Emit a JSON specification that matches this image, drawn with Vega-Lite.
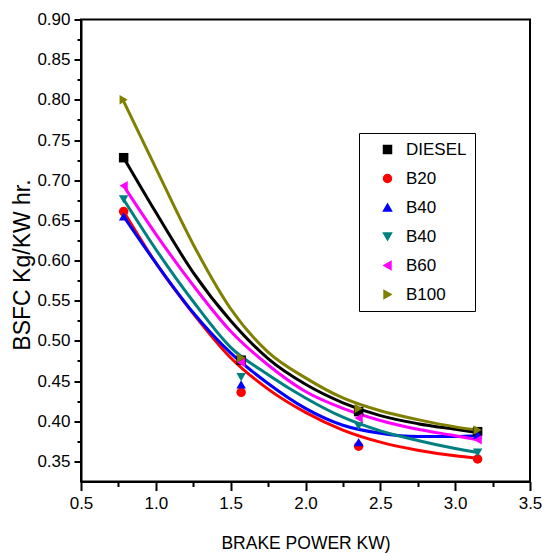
{
  "$schema": "https://vega.github.io/schema/vega-lite/v6.json",
  "width": 449,
  "height": 462,
  "autosize": "none",
  "padding": {"left": 81, "top": 19.5, "right": 19, "bottom": 74.5},
  "background": "white",
  "config": {
    "view": {"stroke": "#000000", "strokeWidth": 2},
    "axis": {
      "domainColor": "#000000", "domainWidth": 2,
      "tickColor": "#000000", "tickWidth": 2,
      "labelFont": "Liberation Sans", "labelFontSize": 17, "labelColor": "#000000",
      "titleColor": "#000000", "titleFontWeight": "normal", "grid": false
    }
  },
  "datasets": {
    "fit": [
      {"bp": 0.785, "bsfc": 0.728, "fuel": "DIESEL"},
      {"bp": 1.0, "bsfc": 0.660, "fuel": "DIESEL"},
      {"bp": 1.25, "bsfc": 0.585, "fuel": "DIESEL"},
      {"bp": 1.5, "bsfc": 0.525, "fuel": "DIESEL"},
      {"bp": 1.75, "bsfc": 0.478, "fuel": "DIESEL"},
      {"bp": 2.0, "bsfc": 0.446, "fuel": "DIESEL"},
      {"bp": 2.25, "bsfc": 0.423, "fuel": "DIESEL"},
      {"bp": 2.5, "bsfc": 0.407, "fuel": "DIESEL"},
      {"bp": 2.75, "bsfc": 0.397, "fuel": "DIESEL"},
      {"bp": 3.0, "bsfc": 0.390, "fuel": "DIESEL"},
      {"bp": 3.15, "bsfc": 0.386, "fuel": "DIESEL"},
      {"bp": 0.785, "bsfc": 0.661, "fuel": "B20"},
      {"bp": 1.0, "bsfc": 0.597, "fuel": "B20"},
      {"bp": 1.25, "bsfc": 0.534, "fuel": "B20"},
      {"bp": 1.5, "bsfc": 0.479, "fuel": "B20"},
      {"bp": 1.75, "bsfc": 0.440, "fuel": "B20"},
      {"bp": 2.0, "bsfc": 0.411, "fuel": "B20"},
      {"bp": 2.25, "bsfc": 0.389, "fuel": "B20"},
      {"bp": 2.5, "bsfc": 0.374, "fuel": "B20"},
      {"bp": 2.75, "bsfc": 0.364, "fuel": "B20"},
      {"bp": 3.0, "bsfc": 0.357, "fuel": "B20"},
      {"bp": 3.15, "bsfc": 0.354, "fuel": "B20"},
      {"bp": 0.785, "bsfc": 0.655, "fuel": "B40"},
      {"bp": 1.0, "bsfc": 0.597, "fuel": "B40"},
      {"bp": 1.25, "bsfc": 0.535, "fuel": "B40"},
      {"bp": 1.5, "bsfc": 0.485, "fuel": "B40"},
      {"bp": 1.75, "bsfc": 0.447, "fuel": "B40"},
      {"bp": 2.0, "bsfc": 0.416, "fuel": "B40"},
      {"bp": 2.25, "bsfc": 0.395, "fuel": "B40"},
      {"bp": 2.5, "bsfc": 0.385, "fuel": "B40"},
      {"bp": 2.75, "bsfc": 0.381, "fuel": "B40"},
      {"bp": 3.0, "bsfc": 0.381, "fuel": "B40"},
      {"bp": 3.15, "bsfc": 0.382, "fuel": "B40"},
      {"bp": 0.785, "bsfc": 0.676, "fuel": "B40b"},
      {"bp": 1.0, "bsfc": 0.614, "fuel": "B40b"},
      {"bp": 1.25, "bsfc": 0.549, "fuel": "B40b"},
      {"bp": 1.5, "bsfc": 0.492, "fuel": "B40b"},
      {"bp": 1.75, "bsfc": 0.458, "fuel": "B40b"},
      {"bp": 2.0, "bsfc": 0.429, "fuel": "B40b"},
      {"bp": 2.25, "bsfc": 0.405, "fuel": "B40b"},
      {"bp": 2.5, "bsfc": 0.388, "fuel": "B40b"},
      {"bp": 2.75, "bsfc": 0.376, "fuel": "B40b"},
      {"bp": 3.0, "bsfc": 0.366, "fuel": "B40b"},
      {"bp": 3.15, "bsfc": 0.361, "fuel": "B40b"},
      {"bp": 0.785, "bsfc": 0.693, "fuel": "B60"},
      {"bp": 1.0, "bsfc": 0.633, "fuel": "B60"},
      {"bp": 1.25, "bsfc": 0.569, "fuel": "B60"},
      {"bp": 1.5, "bsfc": 0.512, "fuel": "B60"},
      {"bp": 1.75, "bsfc": 0.470, "fuel": "B60"},
      {"bp": 2.0, "bsfc": 0.437, "fuel": "B60"},
      {"bp": 2.25, "bsfc": 0.416, "fuel": "B60"},
      {"bp": 2.5, "bsfc": 0.401, "fuel": "B60"},
      {"bp": 2.75, "bsfc": 0.390, "fuel": "B60"},
      {"bp": 3.0, "bsfc": 0.382, "fuel": "B60"},
      {"bp": 3.15, "bsfc": 0.377, "fuel": "B60"},
      {"bp": 0.785, "bsfc": 0.798, "fuel": "B100"},
      {"bp": 1.0, "bsfc": 0.715, "fuel": "B100"},
      {"bp": 1.25, "bsfc": 0.620, "fuel": "B100"},
      {"bp": 1.5, "bsfc": 0.540, "fuel": "B100"},
      {"bp": 1.75, "bsfc": 0.486, "fuel": "B100"},
      {"bp": 2.0, "bsfc": 0.454, "fuel": "B100"},
      {"bp": 2.25, "bsfc": 0.429, "fuel": "B100"},
      {"bp": 2.5, "bsfc": 0.413, "fuel": "B100"},
      {"bp": 2.75, "bsfc": 0.402, "fuel": "B100"},
      {"bp": 3.0, "bsfc": 0.393, "fuel": "B100"},
      {"bp": 3.15, "bsfc": 0.389, "fuel": "B100"}
    ],
    "pts": [
      {"bp": 0.785, "bsfc": 0.728, "fuel": "DIESEL"},
      {"bp": 1.57, "bsfc": 0.476, "fuel": "DIESEL"},
      {"bp": 2.355, "bsfc": 0.412, "fuel": "DIESEL"},
      {"bp": 3.15, "bsfc": 0.387, "fuel": "DIESEL"},
      {"bp": 0.785, "bsfc": 0.661, "fuel": "B20"},
      {"bp": 1.57, "bsfc": 0.436, "fuel": "B20"},
      {"bp": 2.355, "bsfc": 0.369, "fuel": "B20"},
      {"bp": 3.15, "bsfc": 0.353, "fuel": "B20"},
      {"bp": 0.785, "bsfc": 0.655, "fuel": "B40"},
      {"bp": 1.57, "bsfc": 0.446, "fuel": "B40"},
      {"bp": 2.355, "bsfc": 0.374, "fuel": "B40"},
      {"bp": 3.15, "bsfc": 0.383, "fuel": "B40"},
      {"bp": 0.785, "bsfc": 0.676, "fuel": "B40b"},
      {"bp": 1.57, "bsfc": 0.455, "fuel": "B40b"},
      {"bp": 2.355, "bsfc": 0.394, "fuel": "B40b"},
      {"bp": 3.15, "bsfc": 0.361, "fuel": "B40b"},
      {"bp": 0.785, "bsfc": 0.693, "fuel": "B60"},
      {"bp": 1.57, "bsfc": 0.473, "fuel": "B60"},
      {"bp": 2.355, "bsfc": 0.404, "fuel": "B60"},
      {"bp": 3.15, "bsfc": 0.377, "fuel": "B60"},
      {"bp": 0.785, "bsfc": 0.800, "fuel": "B100"},
      {"bp": 1.57, "bsfc": 0.479, "fuel": "B100"},
      {"bp": 2.355, "bsfc": 0.416, "fuel": "B100"},
      {"bp": 3.15, "bsfc": 0.389, "fuel": "B100"}
    ]
  },
  "layer": [
    {
      "data": {"name": "fit"},
      "mark": {"type": "line", "interpolate": "monotone", "strokeWidth": 3},
      "encoding": {
        "x": {
          "field": "bp", "type": "quantitative",
          "scale": {"domain": [0.5, 3.5], "nice": false, "zero": false},
          "axis": {
            "orient": "bottom",
            "values": [0.5, 1, 1.5, 2, 2.5, 3, 3.5], "format": ".1f",
            "tickSize": 9, "labelPadding": 5, "labelFlush": false, "labelOverlap": false,
            "title": "BRAKE POWER KW)", "titleFont": "Liberation Sans", "titleFontSize": 17.5,
            "titleX": 224.5, "titleY": 67, "titleBaseline": "alphabetic", "titleAlign": "center"
          }
        },
        "y": {
          "field": "bsfc", "type": "quantitative",
          "scale": {"domain": [0.325, 0.9], "nice": false, "zero": false},
          "axis": {
            "orient": "left",
            "values": [0.35, 0.4, 0.45, 0.5, 0.55, 0.6, 0.65, 0.7, 0.75, 0.8, 0.85, 0.9], "format": ".2f",
            "tickSize": 7, "labelPadding": 4, "labelOverlap": false,
            "title": "BSFC Kg/KW hr.", "titleFont": "Liberation Sans", "titleFontSize": 23,
            "titleX": -52, "titleY": 245, "titleBaseline": "alphabetic", "titleAlign": "center", "titleAngle": -90
          }
        },
        "color": {
          "field": "fuel", "type": "nominal",
          "scale": {
            "domain": ["DIESEL", "B20", "B40", "B40b", "B60", "B100"],
            "range": ["#000000", "#ff0000", "#0000ff", "#008080", "#ff00ff", "#808000"]
          },
          "legend": {
            "orient": "none", "legendX": 278, "legendY": 113.5,
            "title": null, "strokeColor": "#000000", "padding": 8, "fillColor": "white",
            "labelFont": "Liberation Sans", "labelFontSize": 17, "labelColor": "#000000",
            "labelExpr": "datum.label === 'B40b' ? 'B40' : datum.label",
            "symbolSize": 64, "symbolOffset": 12, "labelOffset": 10, "rowPadding": 11
          }
        }
      }
    },
    {
      "data": {"name": "pts"},
      "mark": {"type": "point", "filled": true, "size": 90, "opacity": 1},
      "encoding": {
        "x": {
          "field": "bp", "type": "quantitative",
          "axis": {"orient": "bottom", "values": [0.75, 1.25, 1.75, 2.25, 2.75, 3.25], "tickSize": 5, "labels": false, "domain": false, "title": null}
        },
        "y": {
          "field": "bsfc", "type": "quantitative",
          "axis": {"orient": "left", "values": [0.375, 0.425, 0.475, 0.525, 0.575, 0.625, 0.675, 0.725, 0.775, 0.825, 0.875], "tickSize": 4, "labels": false, "domain": false, "title": null}
        },
        "color": {"field": "fuel", "type": "nominal"},
        "shape": {
          "field": "fuel", "type": "nominal",
          "scale": {
            "domain": ["DIESEL", "B20", "B40", "B40b", "B60", "B100"],
            "range": ["square", "circle", "triangle-up", "triangle-down", "triangle-left", "triangle-right"]
          },
          "legend": null
        }
      }
    }
  ],
  "resolve": {"axis": {"x": "independent", "y": "independent"}}
}
